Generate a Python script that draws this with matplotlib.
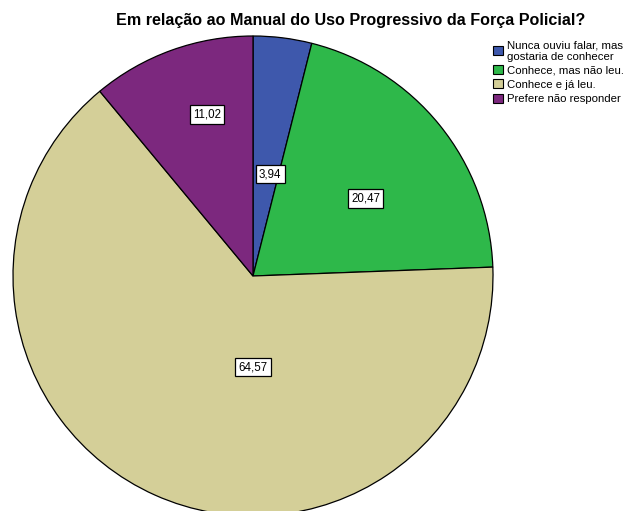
import matplotlib
matplotlib.use("Agg")
import matplotlib.pyplot as plt
import numpy as np

title = "Em relação ao Manual do Uso Progressivo da Força Policial?"
categories = ["Nunca ouviu falar, mas\ngostaria de conhecer",
              "Conhece, mas não leu.",
              "Conhece e já leu.",
              "Prefere não responder"]
values = [3.94, 20.47, 64.57, 11.02]
value_labels = ["3,94", "20,47", "64,57", "11,02"]
colors = ["#3E58AC", "#2EB84A", "#D4CF98", "#7C287E"]

# label placement: (angle in degrees, distance as fraction of radius)
label_pos = [(80.5, 0.43), (34.5, 0.57), (-90.0, 0.38), (105.8, 0.70)]

plt.rcParams['font.family'] = ['Liberation Sans', 'DejaVu Sans']

W, H = 624, 511
fig = plt.figure(figsize=(W / 100, H / 100), dpi=100)
ax = fig.add_axes([0, 0, 1, 1])
ax.set_xlim(0, W)
ax.set_ylim(0, H)
ax.axis("off")

cx, cy, R = 253, H - 276, 240
wedges, _ = ax.pie(values, colors=colors, startangle=90, counterclock=False,
                   center=(cx, cy), radius=R,
                   wedgeprops=dict(edgecolor="black", linewidth=0.9))
ax.set_xlim(0, W)
ax.set_ylim(0, H)
ax.set_aspect("equal")

for lab, (ang, frac) in zip(value_labels, label_pos):
    a = np.deg2rad(ang)
    ax.text(cx + frac * R * np.cos(a), cy + frac * R * np.sin(a), lab,
            ha="center", va="center", fontsize=8.3,
            bbox=dict(boxstyle="square,pad=0.28", fc="white", ec="black", lw=0.9))

fig.text(351 / W, 1 - 21 / H, title, ha="center", va="center",
         fontsize=11.6, fontweight="bold")

leg = fig.legend(wedges, categories, loc="upper left",
                 bbox_to_anchor=(493 / W, 1 - 40 / H), frameon=False,
                 fontsize=8.2, handlelength=0.85, handleheight=0.85,
                 handletextpad=0.35, labelspacing=0.32, borderaxespad=0,
                 borderpad=0)
for h in leg.legend_handles:
    h.set_linewidth(0.8)

fig.savefig("out.png", dpi=100)
